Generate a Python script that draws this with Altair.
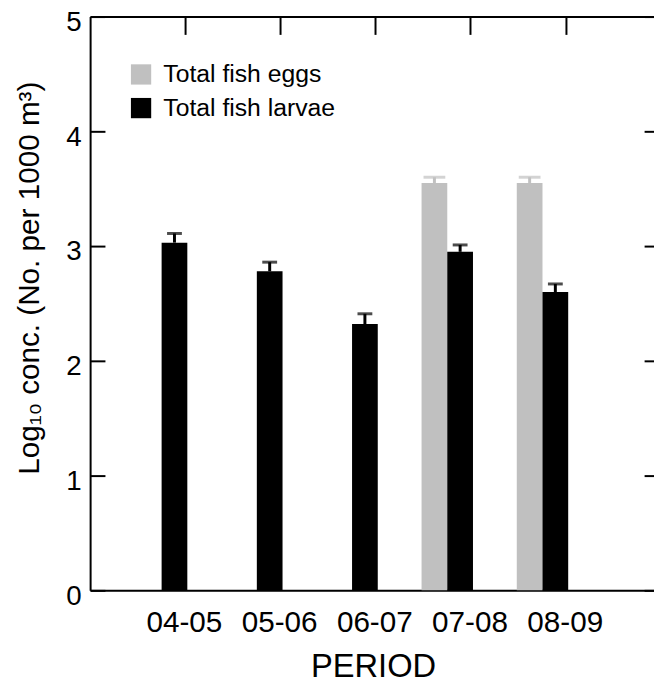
import altair as alt
import pandas as pd

# ---- data ----
periods = ["04-05", "05-06", "06-07", "07-08", "08-09"]
series_names = ["Total fish eggs", "Total fish larvae"]
larvae_mean = [3.03, 2.78, 2.32, 2.95, 2.60]
larvae_se = [0.08, 0.08, 0.09, 0.06, 0.07]
egg_periods = ["07-08", "08-09"]
eggs_mean = [3.55, 3.55]
eggs_se = [0.05, 0.05]
y_ticks = [0, 1, 2, 3, 4, 5]

rows = []
for p, m, s in zip(egg_periods, eggs_mean, eggs_se):
    rows.append({"period": p, "series": series_names[0], "mean": m, "upper": m + s})
for p, m, s in zip(periods, larvae_mean, larvae_se):
    rows.append({"period": p, "series": series_names[1], "mean": m, "upper": m + s})
df = pd.DataFrame(rows)

W, H = 570, 580
FONT = "Liberation Sans"
GREY, BLACK = "#c0c0c0", "#000000"

x_scale = alt.Scale(domain=periods, paddingInner=0.46, paddingOuter=0.691, align=0.348)
y_scale = alt.Scale(domain=[0, 5], nice=False, zero=True)
off_scale = alt.Scale(domain=series_names)
color_scale = alt.Scale(domain=series_names, range=[GREY, BLACK])

leg = alt.Legend(
    orient="none", legendX=39, legendY=46, title=None,
    symbolType="square", symbolSize=420, symbolStrokeWidth=0,
    labelFont=FONT, labelFontSize=25, labelColor="black", labelOffset=10,
    labelLimit=400, rowPadding=8, padding=0,
)

base = alt.Chart(df)

bars = base.mark_bar().encode(
    x=alt.X("period:N", scale=x_scale, axis=alt.Axis(
        orient="bottom", title="PERIOD", ticks=False, domain=True,
        domainColor="black", domainWidth=2, labelFont=FONT, labelFontSize=30,
        labelColor="black", labelPadding=18, labelAngle=0, labelOffset=23,
        titleFont=FONT, titleFontSize=33, titleFontWeight="normal", titleColor="black",
        titleX=286, titleY=87, titleBaseline="alphabetic", titleAlign="center")),
    xOffset=alt.XOffset("series:N", scale=off_scale),
    y=alt.Y("mean:Q", scale=y_scale, axis=alt.Axis(
        orient="left", title="Log₁₀ conc. (No. per 1000 m³)", ticks=False,
        values=y_ticks, domain=True, domainColor="black", domainWidth=2,
        labelFont=FONT, labelFontSize=28, labelColor="black", labelPadding=9,
        labelOffset=6, grid=False,
        titleFont=FONT, titleFontSize=30, titleFontWeight="normal", titleColor="black",
        titleAngle=270, titleX=-52, titleY=264, titleBaseline="alphabetic",
        titleAlign="center")),
    color=alt.Color("series:N", scale=color_scale, legend=leg),
)

stems = base.mark_rule(strokeWidth=3).encode(
    x=alt.X("period:N", scale=x_scale, axis=alt.Axis(
        orient="bottom", offset=-H, labels=False, title=None, ticks=True,
        tickSize=18, tickWidth=2, tickColor="black", domain=True,
        domainWidth=2, domainColor="black", bandPosition=0.96)),
    xOffset=alt.XOffset("series:N", scale=off_scale),
    y=alt.Y("mean:Q", scale=y_scale, axis=alt.Axis(
        orient="right", offset=-W, labels=False, title=None, domain=False,
        ticks=True, tickSize=15, tickWidth=2, tickColor="black",
        values=y_ticks, grid=False)),
    y2="upper:Q",
    stroke=alt.Stroke("series:N", scale=color_scale, legend=None),
)

caps_eggs = base.transform_filter(
    alt.datum.series == series_names[0]
).mark_tick(thickness=3, size=22, color=GREY).encode(
    x=alt.X("period:N", scale=x_scale, axis=None),
    xOffset=alt.XOffset("series:N", scale=off_scale),
    y=alt.Y("upper:Q", scale=y_scale, axis=alt.Axis(
        orient="left", offset=-W, labels=False, title=None, domain=False,
        ticks=True, tickSize=10, tickWidth=2, tickColor="black",
        values=y_ticks, grid=False)),
)

caps_larvae = base.transform_filter(
    alt.datum.series == series_names[1]
).mark_tick(thickness=3, size=15, color=BLACK).encode(
    x=alt.X("period:N", scale=x_scale, axis=None),
    xOffset=alt.XOffset("series:N", scale=off_scale),
    y=alt.Y("upper:Q", scale=y_scale, axis=None),
)

chart = (
    alt.layer(bars, stems, caps_eggs, caps_larvae)
    .resolve_axis(x="independent", y="independent")
    .properties(
        width=W, height=H,
        autosize=alt.AutoSizeParams(type="none"),
        padding={"left": 83, "top": 5, "right": 0, "bottom": 92},
    )
    .configure_view(stroke=None)
    .configure(background="white")
)

chart.save("out.html", embed_options={"renderer": "svg", "actions": False})
